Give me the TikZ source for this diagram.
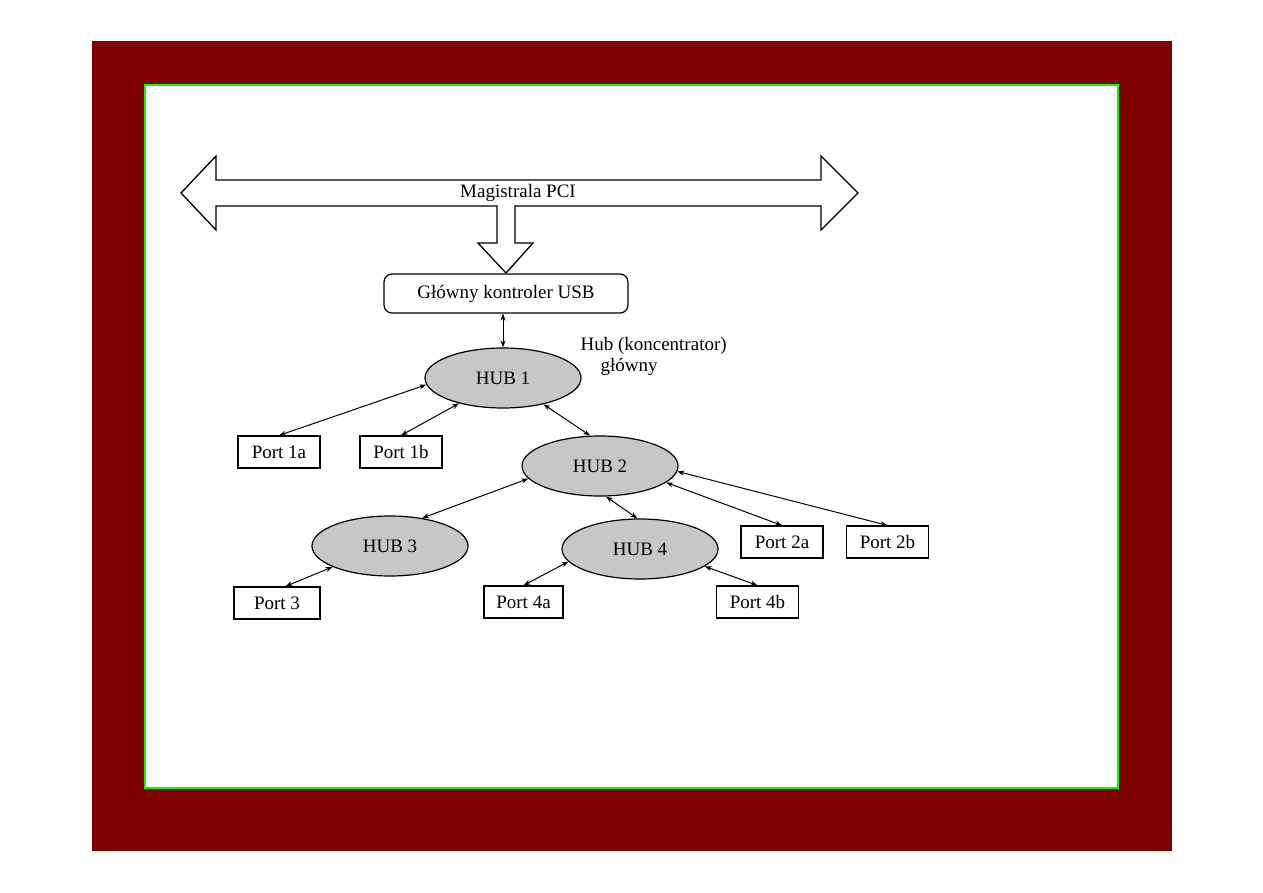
\documentclass[tikz,border=0pt]{standalone}
\usepackage{fontspec}
\setmainfont{Liberation Serif}
\usetikzlibrary{arrows.meta,shapes.geometric}

\definecolor{ramka}{HTML}{800000}
\definecolor{ziel}{HTML}{00FF00}

\tikzset{
  port/.style={draw,line width=1.2pt,minimum width=82pt,minimum height=32pt,inner sep=0pt},
  hub/.style={ellipse,draw,line width=1.2pt,fill=black!22,minimum width=156pt,minimum height=60pt,inner sep=0pt},
  ctrl/.style={draw,line width=1.2pt,rounded corners=8pt,minimum width=244pt,minimum height=39pt,inner sep=0pt},
  link/.style={line width=1pt,{Stealth[length=7pt,width=5pt]}-{Stealth[length=7pt,width=5pt]}}
}

\begin{document}
\begin{tikzpicture}[x=1pt,y=-1pt,font=\fontsize{19}{21}\selectfont]
  \useasboundingbox (0,0) rectangle (1263,893);

  % ================= tlo i ramka =================
  \fill[ramka] (92,41) rectangle (1172,851);
  \draw[ziel,line width=2pt,fill=white] (145,85) rectangle (1118,788);

  % ================= magistrala PCI (strzalka blokowa) =================
  \draw[line width=1.3pt,line join=miter,fill=white]
    (181,193) -- (216,156) -- (216,180) -- (821,180) -- (821,156) -- (858,193)
    -- (821,230) -- (821,206) -- (515,206) -- (515,243) -- (533,243) -- (506,273)
    -- (478,243) -- (497,243) -- (497,206) -- (216,206) -- (216,230) -- cycle;
  \node (pci) at (518,193) {Magistrala PCI};

  % ================= kontroler i huby =================
  \node[ctrl] (usb) at (506,293.5) {Główny kontroler USB};
  \node[hub] (hub1) at (503,378) {HUB 1};
  \node[hub] (hub2) at (600,466) {HUB 2};
  \node[hub] (hub3) at (390,546) {HUB 3};
  \node[hub] (hub4) at (640,549) {HUB 4};
  \node[align=left,anchor=west] (hublbl) at (577,356)
    {Hub (koncentrator)\\\hspace*{20pt}główny};

  % porty
  \node[port] (p1a) at (279,452) {Port 1a};
  \node[port] (p1b) at (401,452) {Port 1b};
  \node[port] (p2a) at (782,542) {Port 2a};
  \node[port] (p2b) at (887.5,542) {Port 2b};
  \node[port,minimum width=86pt] (p3) at (277,603) {Port 3};
  \node[port,minimum width=79pt] (p4a) at (523.5,602) {Port 4a};
  \node[port] (p4b) at (757.5,602) {Port 4b};

  % ================= polaczenia =================
  \draw[link] (hub1.north |- usb.south) -- (hub1.north);
  \draw[link] (hub1.185) -- (p1a.north);
  \draw[link] (hub1.210) -- (p1b.north);
  \draw[link] (hub1.327) -- (hub2.108);
  \draw[link] (hub2.190) -- (hub3.41);
  \draw[link] (hub2.281) -- (hub4.95);
  \draw[link] (hub2.346) -- (p2a.north);
  \draw[link] (hub2.356) -- (p2b.north);
  \draw[link] (hub3.200) -- (p3.63);
  \draw[link] (hub4.190) -- (p4a.north);
  \draw[link] (hub4.345) -- (p4b.north);
\end{tikzpicture}
\end{document}
